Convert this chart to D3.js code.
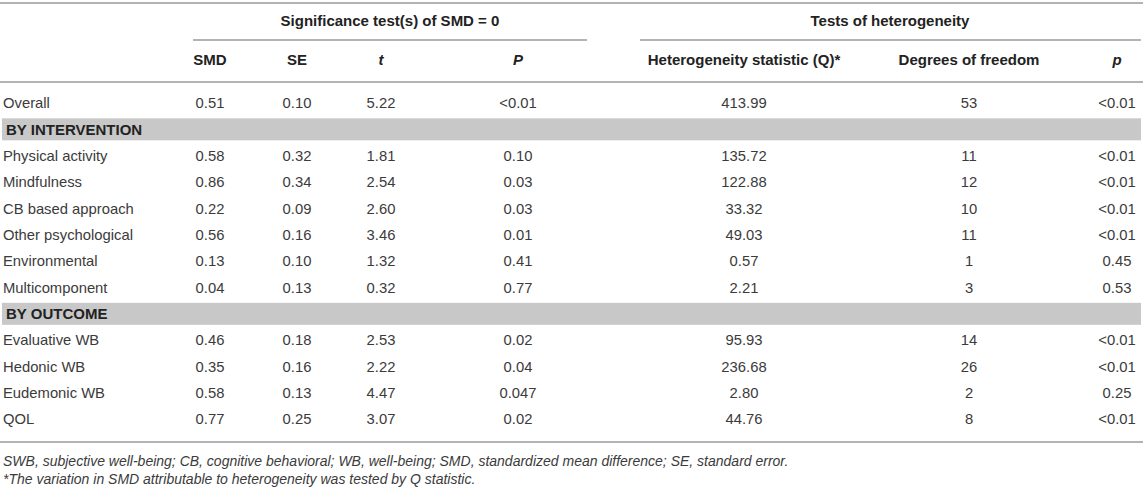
<!DOCTYPE html>
<html>
<head>
<meta charset="utf-8">
<script src="https://cdn.jsdelivr.net/npm/d3@7"></script>
<style>
  body { margin: 0; background: #fff; }
  svg text { font-family: "Liberation Sans", Arial, Helvetica, sans-serif; }
</style>
</head>
<body>
<div id="table"></div>
<script>
(function(){
  // table content
  const groupHeaders = ["Significance test(s) of SMD = 0", "Tests of heterogeneity"];
  const columns = ["SMD", "SE", "t", "P", "Heterogeneity statistic (Q)*", "Degrees of freedom", "p"];
  const italicCols = ["t", "P", "p"];

  const rowLabels = ["Overall", "BY INTERVENTION", "Physical activity", "Mindfulness", "CB based approach",
    "Other psychological", "Environmental", "Multicomponent", "BY OUTCOME",
    "Evaluative WB", "Hedonic WB", "Eudemonic WB", "QOL"];
  const sectionRows = ["BY INTERVENTION", "BY OUTCOME"];

  const smd = ["0.51", null, "0.58", "0.86", "0.22", "0.56", "0.13", "0.04", null, "0.46", "0.35", "0.58", "0.77"];
  const se  = ["0.10", null, "0.32", "0.34", "0.09", "0.16", "0.10", "0.13", null, "0.18", "0.16", "0.13", "0.25"];
  const tVal = ["5.22", null, "1.81", "2.54", "2.60", "3.46", "1.32", "0.32", null, "2.53", "2.22", "4.47", "3.07"];
  const pSig = ["<0.01", null, "0.10", "0.03", "0.03", "0.01", "0.41", "0.77", null, "0.02", "0.04", "0.047", "0.02"];
  const qStat = ["413.99", null, "135.72", "122.88", "33.32", "49.03", "0.57", "2.21", null, "95.93", "236.68", "2.80", "44.76"];
  const dof = ["53", null, "11", "12", "10", "11", "1", "3", null, "14", "26", "2", "8"];
  const pHet = ["<0.01", null, "<0.01", "<0.01", "<0.01", "<0.01", "0.45", "0.53", null, "<0.01", "<0.01", "0.25", "<0.01"];

  const footnotes = [
    "SWB, subjective well-being; CB, cognitive behavioral; WB, well-being; SMD, standardized mean difference; SE, standard error.",
    "*The variation in SMD attributable to heterogeneity was tested by Q statistic."
  ];

  const seriesByCol = [smd, se, tVal, pSig, qStat, dof, pHet];

  const width = 1143, height = 489;
  const textCol = "#3b3b3b", headCol = "#222", lineCol = "#b3b3b3";

  const svg = d3.select("#table").append("svg")
    .attr("width", width).attr("height", height);

  // column centres
  const x = d3.scaleOrdinal()
    .domain(columns)
    .range([210, 297, 381, 518, 744, 969, 1117]);

  // one band per body row
  const y = d3.scaleBand()
    .domain(rowLabels)
    .range([89.8, 432.4]);

  // rules
  const rules = [
    {x1: 0, x2: width, y: 3},
    {x1: 193, x2: 587, y: 40},
    {x1: 640, x2: 1141, y: 40},
    {x1: 0, x2: width, y: 82},
    {x1: 0, x2: width, y: 442}
  ];
  svg.append("g").selectAll("line").data(rules).enter().append("line")
    .attr("x1", d => d.x1).attr("x2", d => d.x2)
    .attr("y1", d => d.y).attr("y2", d => d.y)
    .style("stroke", lineCol).style("stroke-width", 2);

  // section bands
  svg.append("g").selectAll("rect").data(sectionRows).enter().append("rect")
    .attr("x", 2).attr("width", width - 4)
    .attr("y", d => y(d) + y.bandwidth() / 2 - 11)
    .attr("height", 22)
    .style("fill", "#c8c8c8");

  // group headers
  const groupX = [390, 890];
  svg.append("g").selectAll("text").data(groupHeaders).enter().append("text")
    .attr("x", (d, i) => groupX[i]).attr("y", 21)
    .attr("dy", "0.35em")
    .attr("text-anchor", "middle")
    .style("font-size", "15px").style("font-weight", "bold").style("fill", headCol)
    .text(d => d);

  // column headers
  svg.append("g").selectAll("text").data(columns).enter().append("text")
    .attr("x", d => x(d)).attr("y", 60)
    .attr("dy", "0.35em")
    .attr("text-anchor", "middle")
    .style("font-size", "15px").style("font-weight", "bold").style("fill", headCol)
    .style("font-style", d => italicCols.includes(d) ? "italic" : "normal")
    .text(d => d);

  // row labels
  svg.append("g").selectAll("text").data(rowLabels).enter().append("text")
    .attr("x", d => sectionRows.includes(d) ? 6 : 3)
    .attr("y", d => y(d) + y.bandwidth() / 2)
    .attr("dy", "0.35em")
    .style("font-size", d => sectionRows.includes(d) ? "15px" : "14.8px")
    .style("font-weight", d => sectionRows.includes(d) ? "bold" : "normal")
    .style("fill", d => sectionRows.includes(d) ? headCol : textCol)
    .text(d => d);

  // cells
  const cells = [];
  rowLabels.forEach((r, i) => {
    columns.forEach((c, j) => {
      const v = seriesByCol[j][i];
      if (v !== null) cells.push({row: r, col: c, value: v});
    });
  });
  svg.append("g").selectAll("text").data(cells).enter().append("text")
    .attr("x", d => x(d.col))
    .attr("y", d => y(d.row) + y.bandwidth() / 2)
    .attr("dy", "0.35em")
    .attr("text-anchor", "middle")
    .style("font-size", "14.8px").style("fill", textCol)
    .text(d => d.value);

  // footnotes
  svg.append("g").selectAll("text").data(footnotes).enter().append("text")
    .attr("x", 3).attr("y", (d, i) => 461 + i * 18.5)
    .attr("dy", "0.35em")
    .style("font-size", "14px").style("font-style", "italic").style("fill", textCol)
    .text(d => d);
})();
</script>
</body>
</html>
